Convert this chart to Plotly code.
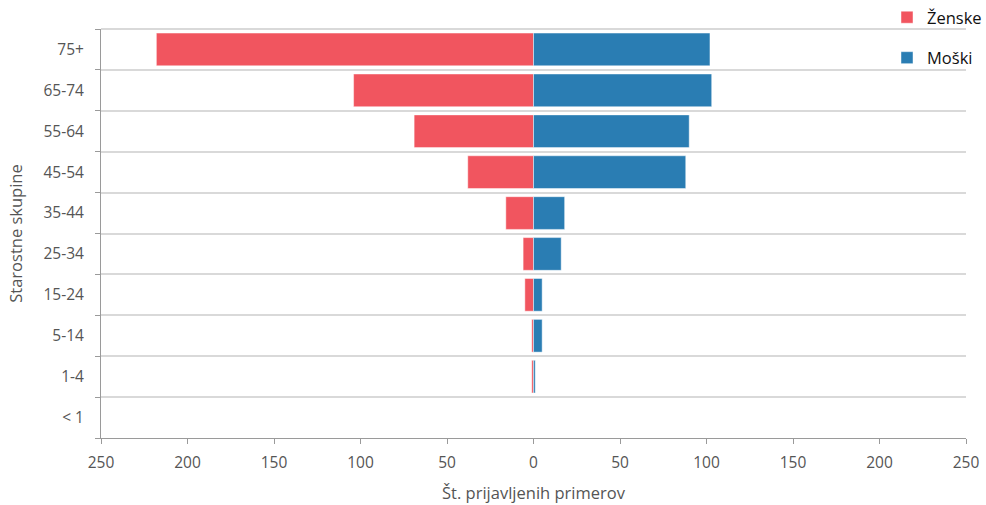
import plotly.graph_objects as go

age_groups = ["< 1", "1-4", "5-14", "15-24", "25-34", "35-44", "45-54", "55-64", "65-74", "75+"]
women = [0, 1, 1, 5, 6, 16, 38, 69, 104, 218]
men = [0, 1, 5, 5, 16, 18, 88, 90, 103, 102]
tick_values = [-250, -200, -150, -100, -50, 0, 50, 100, 150, 200, 250]
tick_labels = ["250", "200", "150", "100", "50", "0", "50", "100", "150", "200", "250"]

RED = "#F1555F"
BLUE = "#2A7DB3"
GRID = "#d9d9d9"
FONT = "'Open Sans', Lato, sans-serif"

fig = go.Figure()
fig.add_trace(go.Bar(
    y=age_groups, x=[-v for v in women], orientation="h", name="Ženske",
    marker=dict(color=RED, line=dict(color="rgba(255,255,255,0.45)", width=1)),
    legendgroup="z", customdata=women,
    hovertemplate="%{y}: %{customdata}<extra>Ženske</extra>",
))
fig.add_trace(go.Bar(
    y=age_groups, x=men, orientation="h", name="Moški",
    marker=dict(color=BLUE, line=dict(color="rgba(255,255,255,0.45)", width=1)),
    legendgroup="m",
    hovertemplate="%{y}: %{x}<extra>Moški</extra>",
))

fig.update_layout(
    width=986, height=505,
    margin=dict(l=101, r=20, t=29, b=67, autoexpand=False),
    paper_bgcolor="white", plot_bgcolor="white",
    barmode="relative", bargap=0.2,
    font=dict(family=FONT, size=15, color="#555555"),
    legend=dict(
        xref="container", yref="container",
        x=887 / 986, xanchor="left", y=1.0, yanchor="top",
        font=dict(size=16.5, color="#111111"),
        tracegroupgap=16, bgcolor="rgba(0,0,0,0)",
    ),
    showlegend=True,
    shapes=[dict(type="line", xref="paper", yref="paper", x0=0, x1=1, y0=1, y1=1,
                 line=dict(color=GRID, width=2), layer="below")],
)

fig.update_xaxes(
    range=[-250, 250], tickvals=tick_values, ticktext=tick_labels,
    showgrid=False, zeroline=False,
    showline=True, linecolor="#9a9a9a", linewidth=1,
    ticks="outside", ticklen=5, tickcolor="#9a9a9a",
    ticklabelstandoff=5,
    tickfont=dict(size=15.5, color="#555555"),
    title=dict(text="Št. prijavljenih primerov", font=dict(size=16.5, color="#555555"), standoff=15),
    fixedrange=True,
)
fig.update_yaxes(
    type="category", categoryorder="array", categoryarray=age_groups,
    tickson="boundaries", showgrid=True, gridcolor=GRID, gridwidth=2,
    showline=True, linecolor="#9a9a9a", linewidth=1,
    ticks="outside", ticklen=5, tickcolor="#9a9a9a",
    ticklabelstandoff=13,
    tickfont=dict(size=15.5, color="#555555"),
    title=dict(text="Starostne skupine", font=dict(size=16.5, color="#555555"), standoff=16),
    zeroline=False, fixedrange=True,
)

fig.write_html("out.html")
